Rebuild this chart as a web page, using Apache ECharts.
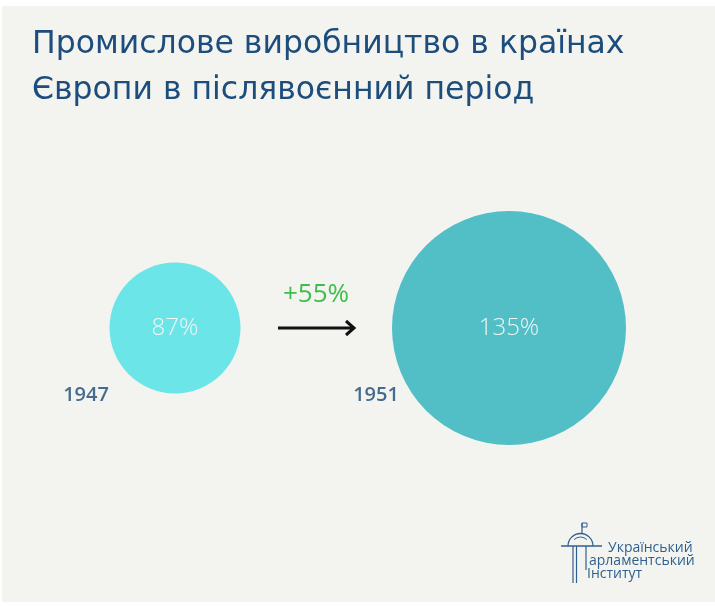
<!DOCTYPE html>
<html>
<head>
<meta charset="utf-8">
<script src="https://cdn.jsdelivr.net/npm/echarts@6/dist/echarts.min.js"></script>
<style>
html,body{margin:0;padding:0;background:#ffffff;}
#c{width:715px;height:608px;}
</style>
</head>
<body>
<div id="c"></div>
<script>
const titleLines = ['Промислове виробництво в країнах', 'Європи в післявоєнний період'];
const years = ['1947', '1951'];
const values = [87, 135];
const circleColors = ['#6ce5e8', '#52bec6'];
const logoLines = ['Український', 'арламентський', 'Інститут'];

const FONT = '"Open Sans", "Noto Sans", sans-serif';
const WIDE = '"DejaVu Sans", "Open Sans", sans-serif';
const change = Math.round((values[1] - values[0]) / values[0] * 100);
const yearOffsets = [[-89, 67], [-133, 67]];

const chart = echarts.init(document.getElementById('c'), null, {renderer: 'canvas'});
const option = {
  backgroundColor: '#ffffff',
  animation: false,
  grid: {left: 8, width: 668, top: 128, height: 400},
  xAxis: {type: 'category', data: years, show: false},
  yAxis: {type: 'value', min: -1, max: 1, show: false},
  visualMap: {
    show: false, seriesIndex: 0, dimension: 1, min: values[0], max: values[1],
    inRange: {symbolSize: [131, 234]}
  },
  series: [
    {
      type: 'scatter',
      silent: true,
      data: years.map((y, i) => ({
        value: [y, values[i], 0],
        itemStyle: {color: circleColors[i], opacity: 1}
      })),
      encode: {x: 0, y: 2},
      label: {
        show: true, position: 'inside',
        formatter: p => p.value[1] + '%',
        color: '#eef6f4', fontSize: 24, fontFamily: FONT, fontWeight: 300
      },
      z: 2
    },
    {
      type: 'scatter',
      silent: true,
      symbolSize: 0,
      data: years.map((y, i) => ({
        value: [y, 0],
        label: {offset: yearOffsets[i]}
      })),
      label: {
        show: true, position: 'inside',
        formatter: p => p.value[0],
        color: '#1a4876', fontSize: 20, fontFamily: FONT, fontWeight: 600
      },
      z: 3
    }
  ],
  graphic: [
    {type: 'rect', left: 2, top: 6, shape: {width: 713, height: 596}, style: {fill: '#f3f4ef'}, z: -10, silent: true},
    {type: 'text', left: 32, top: 29, style: {text: titleLines[0], font: '31.5px ' + WIDE, fill: '#1d4d7c'}},
    {type: 'text', left: 32, top: 75, style: {text: titleLines[1], font: '31.5px ' + WIDE, fill: '#1d4d7c'}},
    {type: 'text', left: 283, top: 282, style: {text: '+' + change + '%', font: '26px ' + FONT, fill: '#3fbd4b'}},
    {type: 'line', shape: {x1: 278, y1: 328, x2: 354, y2: 328}, style: {stroke: '#111', lineWidth: 3}},
    {type: 'polyline', shape: {points: [[346, 321], [354, 328], [346, 335]]}, style: {stroke: '#111', lineWidth: 3, fill: null}},
    // logo
    {type: 'line', shape: {x1: 561, y1: 546, x2: 602, y2: 546}, style: {stroke: '#2f5f8f', lineWidth: 1.3}},
    {type: 'arc', shape: {cx: 580.5, cy: 546, r: 12.5, startAngle: Math.PI, endAngle: 2 * Math.PI}, style: {stroke: '#2f5f8f', lineWidth: 1.3, fill: null}},
    {type: 'arc', shape: {cx: 580.5, cy: 546, r: 9, startAngle: Math.PI * 1.25, endAngle: Math.PI * 1.75}, style: {stroke: '#2f5f8f', lineWidth: 1, fill: null}},
    {type: 'line', shape: {x1: 582, y1: 533, x2: 582, y2: 523}, style: {stroke: '#2f5f8f', lineWidth: 1.2}},
    {type: 'rect', shape: {x: 582, y: 523, width: 5, height: 4}, style: {stroke: '#2f5f8f', lineWidth: 1, fill: null}},
    {type: 'line', shape: {x1: 573, y1: 546, x2: 573, y2: 583}, style: {stroke: '#2f5f8f', lineWidth: 1.2}},
    {type: 'line', shape: {x1: 576.5, y1: 546, x2: 576.5, y2: 583}, style: {stroke: '#2f5f8f', lineWidth: 1.2}},
    {type: 'line', shape: {x1: 586, y1: 546, x2: 586, y2: 570}, style: {stroke: '#2f5f8f', lineWidth: 1.2}},
    {type: 'text', left: 608, top: 541, style: {text: logoLines[0], font: '14px ' + FONT, fill: '#2f5f8f'}},
    {type: 'text', left: 589, top: 554, style: {text: logoLines[1], font: '14px ' + FONT, fill: '#2f5f8f'}},
    {type: 'text', left: 587, top: 567, style: {text: logoLines[2], font: '14px ' + FONT, fill: '#2f5f8f'}}
  ]
};
chart.setOption(option);
</script>
</body>
</html>
